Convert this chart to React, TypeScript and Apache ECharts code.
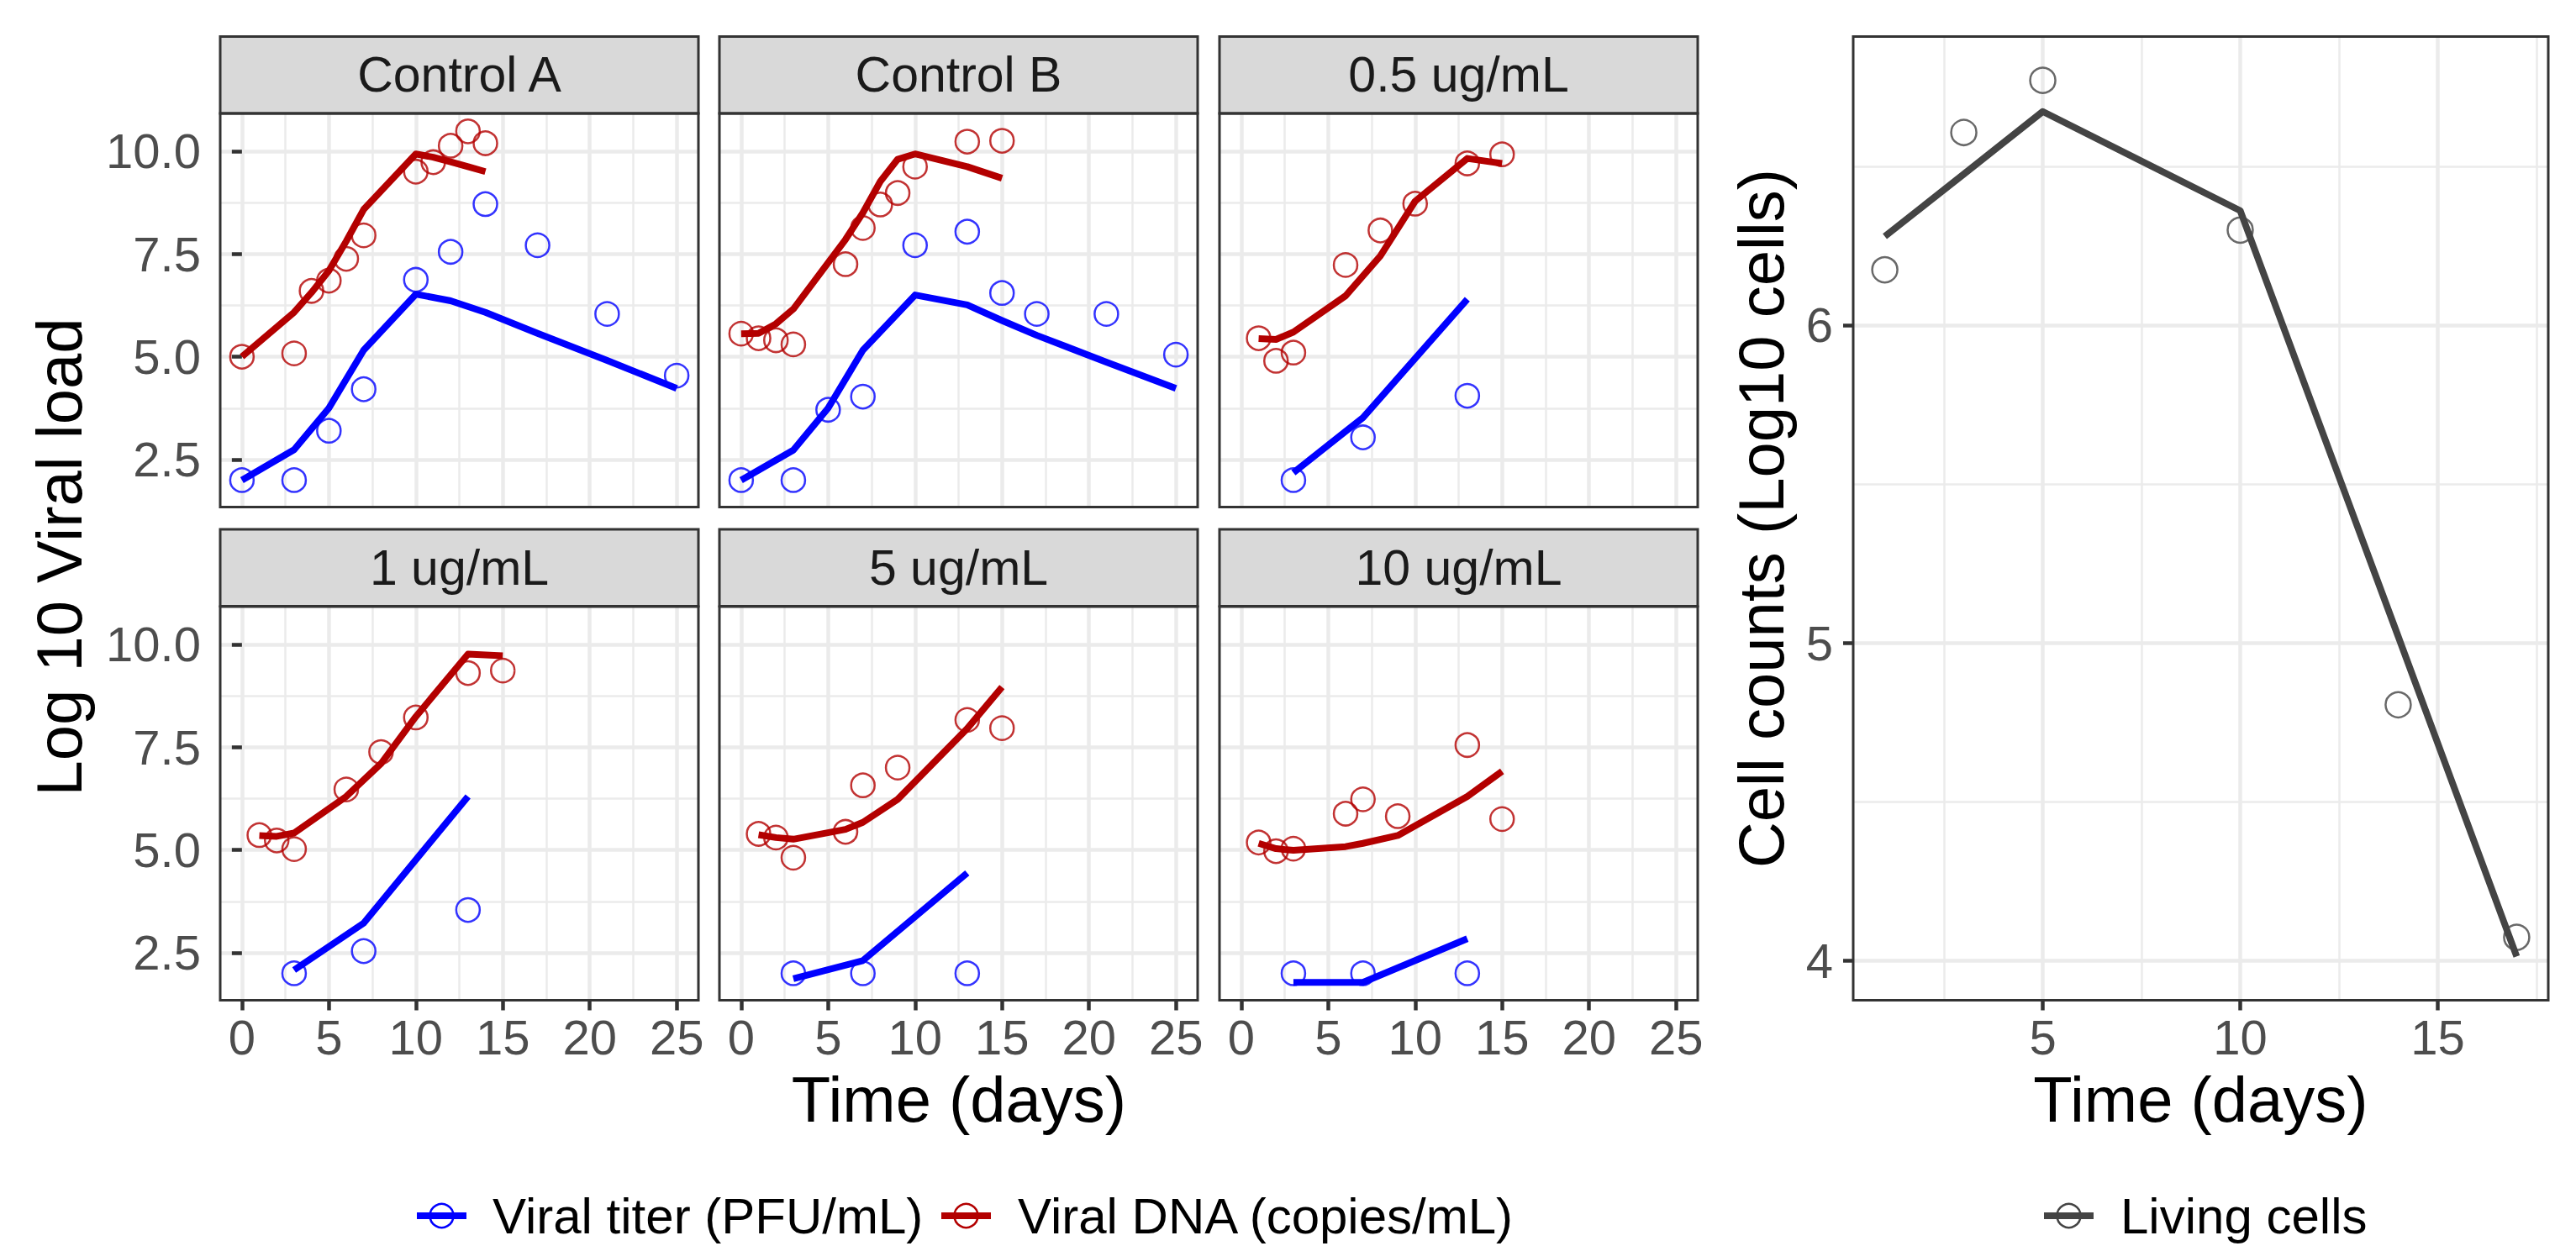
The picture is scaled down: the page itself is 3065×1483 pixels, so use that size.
import React, { useEffect, useRef } from "react";
import * as echarts from "echarts";

const FONT = "'Liberation Sans', Arial, Helvetica, sans-serif";
const BLUE = "#0000FF";
const RED = "#B30000";
const GREY = "#444444";
const GRIDC = "#EBEBEB";
const DARK = "#333333";

// ---------- data ----------
const panelTitles = ["Control A", "Control B", "0.5 ug/mL", "1 ug/mL", "5 ug/mL", "10 ug/mL"];
const seriesNames = ["Viral titer (PFU/mL)", "Viral DNA (copies/mL)"];

// Control A
const ctrlADnaDays = [0, 3, 4, 5, 6, 7, 10, 11, 12, 13, 14];
const ctrlADnaObs = [5.0, 5.08, 6.6, 6.85, 7.38, 7.95, 9.5, 9.73, 10.13, 10.48, 10.19];
const ctrlADnaFit = [5.0, 6.08, 6.56, 7.09, 7.81, 8.58, 9.93, 9.85, 9.74, 9.62, 9.5];
const ctrlATiterDays = [0, 3, 5, 7, 10, 12, 14, 17, 21, 25];
const ctrlATiterObs = [2.0, 2.0, 3.2, 4.21, 6.87, 7.55, 8.71, 7.71, 6.04, 4.54];
const ctrlATiterFit = [2.0, 2.74, 3.75, 5.16, 6.52, 6.36, 6.08, 5.57, 4.91, 4.23];

// Control B
const ctrlBDnaDays = [0, 1, 2, 3, 6, 7, 8, 9, 10, 13, 15];
const ctrlBDnaObs = [5.56, 5.45, 5.4, 5.3, 7.25, 8.13, 8.7, 8.98, 9.62, 10.23, 10.25];
const ctrlBDnaFit = [5.56, 5.57, 5.8, 6.16, 7.85, 8.5, 9.26, 9.8, 9.93, 9.62, 9.34];
const ctrlBTiterDays = [0, 3, 5, 7, 10, 13, 15, 17, 21, 25];
const ctrlBTiterObs = [2.0, 2.0, 3.71, 4.03, 7.71, 8.04, 6.55, 6.04, 6.04, 5.05];
const ctrlBTiterFit = [2.0, 2.73, 3.75, 5.16, 6.5, 6.26, 5.88, 5.52, 4.87, 4.23];

// 0.5 ug/mL
const d05DnaDays = [1, 2, 3, 6, 8, 10, 13, 15];
const d05DnaObs = [5.45, 4.9, 5.1, 7.23, 8.07, 8.72, 9.7, 9.92];
const d05DnaFit = [5.44, 5.42, 5.6, 6.48, 7.45, 8.78, 9.82, 9.7];
const d05TiterDays = [3, 7, 13];
const d05TiterObs = [2.0, 3.04, 4.05];
const d05TiterFit = [2.18, 3.52, 6.4];

// 1 ug/mL
const d1DnaDays = [1, 2, 3, 6, 8, 10, 13, 15];
const d1DnaObs = [5.36, 5.23, 5.02, 6.47, 7.38, 8.22, 9.3, 9.36];
const d1DnaFit = [5.35, 5.33, 5.41, 6.3, 7.1, 8.24, 9.76, 9.72];
const d1TiterDays = [3, 7, 13];
const d1TiterObs = [2.0, 2.54, 3.54];
const d1TiterFit = [2.08, 3.22, 6.3];

// 5 ug/mL
const d5DnaDays = [1, 2, 3, 6, 7, 9, 13, 15];
const d5DnaObs = [5.39, 5.3, 4.81, 5.44, 6.57, 7.0, 8.16, 7.96];
const d5DnaFit = [5.37, 5.3, 5.26, 5.5, 5.67, 6.23, 7.95, 8.96];
const d5TiterDays = [3, 7, 13];
const d5TiterObs = [2.0, 2.0, 2.0];
const d5TiterFit = [1.87, 2.31, 4.44];

// 10 ug/mL
const d10DnaDays = [1, 2, 3, 6, 7, 9, 13, 15];
const d10DnaObs = [5.18, 4.97, 5.03, 5.88, 6.23, 5.82, 7.55, 5.75];
const d10DnaFit = [5.16, 5.03, 4.99, 5.08, 5.16, 5.35, 6.3, 6.91];
const d10TiterDays = [3, 7, 13];
const d10TiterObs = [2.0, 2.0, 2.0];
const d10TiterFit = [1.78, 1.78, 2.84];

// Living cells
const cellDays = [1, 3, 5, 10, 14, 17];
const cellObs = [6.174, 6.606, 6.77, 6.299, 4.805, 4.073];
const cellFit = [6.279, 6.475, 6.672, 6.36, 5.02, 4.013];

// ticks
const facetXTicks = [0, 5, 10, 15, 20, 25];
const facetYTicks = [2.5, 5, 7.5, 10];
const cellXTicks = [5, 10, 15];
const cellYTicks = [4, 5, 6];

const panels = [
  { dDays: ctrlADnaDays, dObs: ctrlADnaObs, dFit: ctrlADnaFit, tDays: ctrlATiterDays, tObs: ctrlATiterObs, tFit: ctrlATiterFit },
  { dDays: ctrlBDnaDays, dObs: ctrlBDnaObs, dFit: ctrlBDnaFit, tDays: ctrlBTiterDays, tObs: ctrlBTiterObs, tFit: ctrlBTiterFit },
  { dDays: d05DnaDays, dObs: d05DnaObs, dFit: d05DnaFit, tDays: d05TiterDays, tObs: d05TiterObs, tFit: d05TiterFit },
  { dDays: d1DnaDays, dObs: d1DnaObs, dFit: d1DnaFit, tDays: d1TiterDays, tObs: d1TiterObs, tFit: d1TiterFit },
  { dDays: d5DnaDays, dObs: d5DnaObs, dFit: d5DnaFit, tDays: d5TiterDays, tObs: d5TiterObs, tFit: d5TiterFit },
  { dDays: d10DnaDays, dObs: d10DnaObs, dFit: d10DnaFit, tDays: d10TiterDays, tObs: d10TiterObs, tFit: d10TiterFit },
];

// ---------- layout ----------
const COL_LEFT = [262, 856, 1451];
const PANEL_W = 569;
const ROW_TOP = [135, 722];
const PANEL_H = 468.5;
const STRIP_TOP = [43.5, 630];
const STRIP_H = 91.5;
const RIGHT = { left: 2205, top: 43.5, width: 827, height: 1147 };
const LEGEND_Y = 1447;

const zip = (xs: number[], ys: number[]) => xs.map((x, i) => [x, ys[i]]);

function axisCommon(ticks: number[], showTicks: boolean, fmt: (v: number) => string, margin: number) {
  return {
    type: "value",
    axisLine: { show: false },
    axisTick: {
      show: showTicks,
      customValues: ticks,
      length: 12,
      lineStyle: { color: DARK, width: 4.5 },
    },
    axisLabel: {
      show: showTicks,
      customValues: ticks,
      formatter: (v: number) => (ticks.some((t) => Math.abs(t - v) < 1e-9) ? fmt(v) : ""),
      fontSize: 58,
      lineHeight: 58,
      fontFamily: FONT,
      color: "#4D4D4D",
      margin,
      showMinLabel: true,
      showMaxLabel: true,
    },
    splitLine: { show: true, lineStyle: { color: GRIDC, width: 4.5 } },
    minorTick: { show: false, splitNumber: 2 },
    minorSplitLine: { show: true, lineStyle: { color: GRIDC, width: 2.5 } },
  };
}

function buildOption() {
  const grid: any[] = [];
  const xAxis: any[] = [];
  const yAxis: any[] = [];
  const series: any[] = [];
  const graphic: any[] = [];

  panels.forEach((p, i) => {
    const col = i % 3;
    const row = Math.floor(i / 3);
    const left = COL_LEFT[col];
    const top = ROW_TOP[row];
    grid.push({ left, top, width: PANEL_W, height: PANEL_H, show: false, outerBoundsMode: "none", containLabel: false });
    xAxis.push({
      gridIndex: i,
      min: -1.25,
      max: 26.25,
      minInterval: 5,
      maxInterval: 5,
      ...axisCommon(facetXTicks, row === 1, (v) => String(v), 15),
    });
    yAxis.push({
      gridIndex: i,
      min: 1.345,
      max: 10.915,
      minInterval: 2.5,
      maxInterval: 2.5,
      ...axisCommon(facetYTicks, col === 0, (v) => v.toFixed(1), 23),
    });
    const common = { xAxisIndex: i, yAxisIndex: i, silent: true, emphasis: { disabled: true } };
    series.push({
      ...common,
      type: "scatter",
      name: seriesNames[0],
      data: zip(p.tDays, p.tObs),
      symbol: "circle",
      symbolSize: 28,
      itemStyle: { color: "rgba(0,0,0,0)", borderColor: BLUE, borderWidth: 2.5 },
      z: 2,
    });
    series.push({
      ...common,
      type: "scatter",
      name: seriesNames[1],
      data: zip(p.dDays, p.dObs),
      symbol: "circle",
      symbolSize: 28,
      itemStyle: { color: "rgba(0,0,0,0)", borderColor: RED, borderWidth: 2.5 },
      z: 2,
    });
    series.push({
      ...common,
      type: "line",
      name: seriesNames[0],
      data: zip(p.tDays, p.tFit),
      symbol: "none",
      lineStyle: { color: BLUE, width: 8, join: "round", cap: "butt" },
      z: 3,
    });
    series.push({
      ...common,
      type: "line",
      name: seriesNames[1],
      data: zip(p.dDays, p.dFit),
      symbol: "none",
      lineStyle: { color: RED, width: 8, join: "round", cap: "butt" },
      z: 3,
    });

    // strip
    graphic.push({
      type: "rect",
      silent: true,
      z: 100,
      shape: { x: left, y: STRIP_TOP[row], width: PANEL_W, height: STRIP_H },
      style: { fill: "#D9D9D9", stroke: DARK, lineWidth: 3 },
    });
    graphic.push({
      type: "text",
      silent: true,
      z: 101,
      x: left + PANEL_W / 2,
      y: STRIP_TOP[row] + STRIP_H / 2,
      style: {
        text: panelTitles[i],
        fontSize: 59,
        fontFamily: FONT,
        fill: "#1A1A1A",
        align: "center",
        verticalAlign: "middle",
        textAlign: "center",
        textVerticalAlign: "middle",
      },
    });
    // panel border
    graphic.push({
      type: "rect",
      silent: true,
      z: 100,
      shape: { x: left, y: top, width: PANEL_W, height: PANEL_H },
      style: { fill: "none", stroke: DARK, lineWidth: 3 },
    });
  });

  // right panel
  const gi = panels.length;
  grid.push({ ...RIGHT, show: false, outerBoundsMode: "none", containLabel: false });
  xAxis.push({
    gridIndex: gi,
    min: 0.2,
    max: 17.8,
    minInterval: 5,
    maxInterval: 5,
    ...axisCommon(cellXTicks, true, (v) => String(v), 15),
  });
  yAxis.push({
    gridIndex: gi,
    min: 3.875,
    max: 6.908,
    minInterval: 1,
    maxInterval: 1,
    ...axisCommon(cellYTicks, true, (v) => String(v), 24),
  });
  series.push({
    type: "scatter",
    name: "Living cells",
    xAxisIndex: gi,
    yAxisIndex: gi,
    silent: true,
    data: zip(cellDays, cellObs),
    symbol: "circle",
    symbolSize: 30,
    itemStyle: { color: "rgba(0,0,0,0)", borderColor: GREY, borderWidth: 2.5 },
    z: 2,
  });
  series.push({
    type: "line",
    name: "Living cells",
    xAxisIndex: gi,
    yAxisIndex: gi,
    silent: true,
    data: zip(cellDays, cellFit),
    symbol: "none",
    lineStyle: { color: GREY, width: 8, join: "round", cap: "butt" },
    z: 3,
  });
  graphic.push({
    type: "rect",
    silent: true,
    z: 100,
    shape: { x: RIGHT.left, y: RIGHT.top, width: RIGHT.width, height: RIGHT.height },
    style: { fill: "none", stroke: DARK, lineWidth: 3 },
  });

  const textEl = (text: string, x: number, y: number, size: number, rotate = false, align = "center") => ({
    type: "text",
    silent: true,
    z: 101,
    x,
    y,
    rotation: rotate ? Math.PI / 2 : 0,
    style: {
      text,
      fontSize: size,
      fontFamily: FONT,
      fill: "#000000",
      align,
      verticalAlign: "middle",
      textAlign: align,
      textVerticalAlign: "middle",
    },
  });

  // axis titles
  graphic.push(textEl("Log 10 Viral load", 70, 663, 76, true));
  graphic.push(textEl("Time (days)", (COL_LEFT[0] + COL_LEFT[2] + PANEL_W) / 2, 1308, 76));
  graphic.push(textEl("Cell counts (Log10 cells)", 2095, RIGHT.top + RIGHT.height / 2, 76, true));
  graphic.push(textEl("Time (days)", RIGHT.left + RIGHT.width / 2, 1308, 76));

  // legends
  const legendKey = (x1: number, color: string) => [
    {
      type: "line",
      silent: true,
      z: 101,
      shape: { x1, y1: LEGEND_Y, x2: x1 + 59, y2: LEGEND_Y },
      style: { stroke: color, lineWidth: 8 },
    },
    {
      type: "circle",
      silent: true,
      z: 102,
      shape: { cx: x1 + 29.5, cy: LEGEND_Y, r: 14 },
      style: { fill: "none", stroke: color, lineWidth: 2.5 },
    },
  ];
  graphic.push(...legendKey(496, BLUE));
  graphic.push(textEl(seriesNames[0], 586, LEGEND_Y, 60, false, "left"));
  graphic.push(...legendKey(1120, RED));
  graphic.push(textEl(seriesNames[1], 1211, LEGEND_Y, 60, false, "left"));
  graphic.push(...legendKey(2432, GREY));
  graphic.push(textEl("Living cells", 2523, LEGEND_Y, 60, false, "left"));

  return {
    animation: false,
    backgroundColor: "#FFFFFF",
    textStyle: { fontFamily: FONT },
    grid,
    xAxis,
    yAxis,
    series,
    graphic: { elements: graphic },
  };
}

export default function App() {
  const ref = useRef<HTMLDivElement>(null);
  useEffect(() => {
    document.body.style.margin = "0";
    const chart = echarts.init(ref.current!, null, { renderer: "svg" });
    chart.setOption(buildOption() as any);
    return () => chart.dispose();
  }, []);
  return <div ref={ref} style={{ width: 3065, height: 1483, background: "#fff" }} />;
}
